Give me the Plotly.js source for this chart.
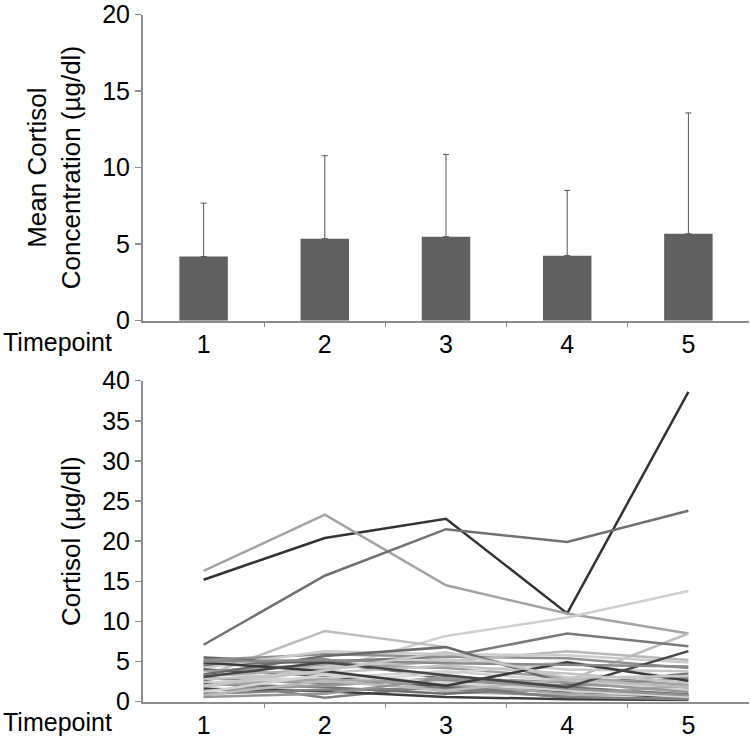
<!DOCTYPE html>
<html>
<head>
<meta charset="utf-8">
<script src="https://cdn.plot.ly/plotly-3.0.1.min.js"></script>
<style>
  html, body { margin: 0; padding: 0; background: #ffffff; }
  #chart { width: 750px; height: 741px; }
</style>
</head>
<body>
<div id="chart"></div>
<script>
// ---------- DATA ----------
const timepoints = [1, 2, 3, 4, 5];
const timepointLabels = ["1", "2", "3", "4", "5"];

// Top panel: mean cortisol and upper SD error
const meanCortisol = [4.19, 5.36, 5.49, 4.25, 5.68];
const sdCortisol = [3.49, 5.42, 5.37, 4.26, 7.89];

// Bottom panel: individual subjects (µg/dl)
const subject01 = [15.2, 20.4, 22.8, 11.0, 38.6];
const subject02 = [16.3, 23.3, 14.5, 11.0, 8.5];
const subject03 = [7.1, 15.7, 21.5, 19.9, 23.8];
const subject04 = [2.2, 3.9, 8.2, 10.5, 13.8];
const subject05 = [3.2, 8.8, 6.8, 2.6, 8.5];
const subject06 = [4.6, 5.0, 5.6, 8.5, 6.9];
const subject07 = [5.5, 4.8, 3.2, 1.5, 0.8];
const subject08 = [5.2, 5.9, 5.6, 5.4, 4.2];
const subject09 = [4.8, 4.1, 5.0, 6.3, 5.2];
const subject10 = [4.5, 5.3, 2.8, 2.0, 3.5];
const subject11 = [4.2, 6.3, 5.9, 5.8, 4.9];
const subject12 = [4.0, 3.2, 1.8, 1.2, 0.5];
const subject13 = [3.8, 4.6, 4.2, 3.0, 2.1];
const subject14 = [3.6, 2.5, 3.5, 5.0, 2.8];
const subject15 = [3.4, 5.7, 6.8, 2.2, 1.6];
const subject16 = [3.2, 4.0, 1.2, 0.8, 1.0];
const subject17 = [3.0, 2.2, 2.6, 1.9, 3.0];
const subject18 = [2.8, 3.6, 4.5, 3.5, 2.4];
const subject19 = [2.6, 0.5, 2.0, 0.5, 0.4];
const subject20 = [2.4, 3.0, 3.8, 2.6, 1.5];
const subject21 = [2.2, 1.8, 1.0, 1.8, 0.9];
const subject22 = [2.0, 2.8, 2.2, 1.0, 2.0];
const subject23 = [1.8, 4.4, 5.3, 4.0, 3.8];
const subject24 = [1.6, 1.3, 0.6, 0.3, 0.2];
const subject25 = [1.4, 2.0, 3.0, 2.4, 1.2];
const subject26 = [1.2, 3.4, 2.4, 1.4, 0.6];
const subject27 = [1.0, 1.5, 1.6, 0.6, 0.3];
const subject28 = [0.8, 2.6, 1.4, 2.8, 1.8];
const subject29 = [0.6, 1.0, 2.9, 1.6, 0.8];
const subject30 = [4.9, 3.8, 2.0, 4.9, 2.6];
const subject31 = [3.1, 4.9, 3.3, 1.8, 6.3];
const subject32 = [5.0, 5.2, 4.8, 4.6, 4.4];
const subject33 = [2.0, 3.9, 6.2, 3.0, 3.2];

const subjects = [subject01, subject02, subject03, subject04, subject05, subject06,
  subject07, subject08, subject09, subject10, subject11, subject12, subject13,
  subject14, subject15, subject16, subject17, subject18, subject19, subject20,
  subject21, subject22, subject23, subject24, subject25, subject26, subject27,
  subject28, subject29, subject30, subject31, subject32, subject33];

// ---------- STYLE ----------
const lineColors = ["#333333", "#a3a3a3", "#707070", "#cfcfcf", "#bdbdbd", "#7a7a7a",
  "#5c5c5c", "#8f8f8f", "#b8b8b8", "#767676", "#cccccc", "#4a4a4a", "#a0a0a0",
  "#d8d8d8", "#6a6a6a", "#b0b0b0", "#888888", "#c4c4c4", "#7e7e7e", "#d2d2d2",
  "#6e6e6e", "#a6a6a6", "#c8c8c8", "#3e3e3e", "#999999", "#d4d4d4", "#808080",
  "#bababa", "#949494", "#3a3a3a", "#474747", "#8a8a8a", "#c6c6c6"];

const axisGray = "#8c8c8c";
const fontFamily = "Liberation Sans, Arial, sans-serif";

const traces = [];
traces.push({
  type: "bar",
  x: timepoints,
  y: meanCortisol,
  xaxis: "x",
  yaxis: "y",
  marker: { color: "#606060", line: { width: 0 } },
  width: 0.4,
  error_y: {
    type: "data",
    symmetric: false,
    array: sdCortisol,
    arrayminus: sdCortisol.map(() => 0),
    color: "#555555",
    thickness: 1,
    width: 3
  },
  hoverinfo: "skip"
});

subjects.forEach((vals, i) => {
  traces.push({
    type: "scatter",
    mode: "lines",
    x: timepoints,
    y: vals,
    xaxis: "x2",
    yaxis: "y2",
    line: { color: lineColors[i % lineColors.length], width: 2.5 },
    hoverinfo: "skip"
  });
});

const H = 741;
const T = 0, B = 0;
const PH = H - T - B;
function frac(ypx) { return 1 - (ypx - T) / PH; }

const xCommon = {
  range: [0.5, 5.5],
  tickmode: "array",
  tickvals: timepoints,
  ticktext: timepointLabels,
  ticks: "",
  showline: true,
  linecolor: axisGray,
  linewidth: 2,
  showgrid: false,
  zeroline: false,
  ticklabeloverflow: "allow",
  tickfont: { size: 25, color: "#000" },
  minor: { tickmode: "array", tickvals: [1.5, 2.5, 3.5, 4.5], ticks: "outside", ticklen: 4, tickwidth: 1, tickcolor: axisGray, showgrid: false },
  fixedrange: true
};
const yCommon = {
  ticks: "outside",
  ticklen: 6,
  tickwidth: 1.5,
  tickcolor: axisGray,
  showline: true,
  linecolor: axisGray,
  linewidth: 2,
  showgrid: false,
  zeroline: false,
  ticklabeloverflow: "allow",
  tickfont: { size: 25, color: "#000" },
  fixedrange: true
};

const layout = {
  width: 750,
  height: 741,
  margin: { l: 143, r: 1, t: T, b: B },
  paper_bgcolor: "#ffffff",
  plot_bgcolor: "#ffffff",
  font: { family: fontFamily, color: "#000" },
  showlegend: false,
  xaxis: Object.assign({}, xCommon, { domain: [0, 1], anchor: "y" }),
  yaxis: Object.assign({}, yCommon, {
    domain: [frac(320.7), frac(14.5)],
    anchor: "x",
    range: [0, 20],
    tickvals: [0, 5, 10, 15, 20],
    title: { text: "Mean Cortisol<br>Concentration (µg/dl)", font: { size: 26, color: "#000" }, standoff: 14 }
  }),
  xaxis2: Object.assign({}, xCommon, { domain: [0, 1], anchor: "y2" }),
  yaxis2: Object.assign({}, yCommon, {
    domain: [frac(701.7), frac(380.7)],
    anchor: "x2",
    range: [0, 40],
    tickvals: [0, 5, 10, 15, 20, 25, 30, 35, 40],
    title: { text: "Cortisol (µg/dl)", font: { size: 26, color: "#000" }, standoff: 14 }
  }),
  annotations: [
    { text: "Timepoint", xref: "paper", yref: "paper", x: (1 - 143) / 606, y: frac(342),
      xanchor: "left", yanchor: "middle", showarrow: false, font: { size: 25, color: "#000" } },
    { text: "Timepoint", xref: "paper", yref: "paper", x: (1 - 143) / 606, y: frac(722),
      xanchor: "left", yanchor: "middle", showarrow: false, font: { size: 25, color: "#000" } }
  ]
};

Plotly.newPlot("chart", traces, layout, { displayModeBar: false, staticPlot: true });
</script>
</body>
</html>
